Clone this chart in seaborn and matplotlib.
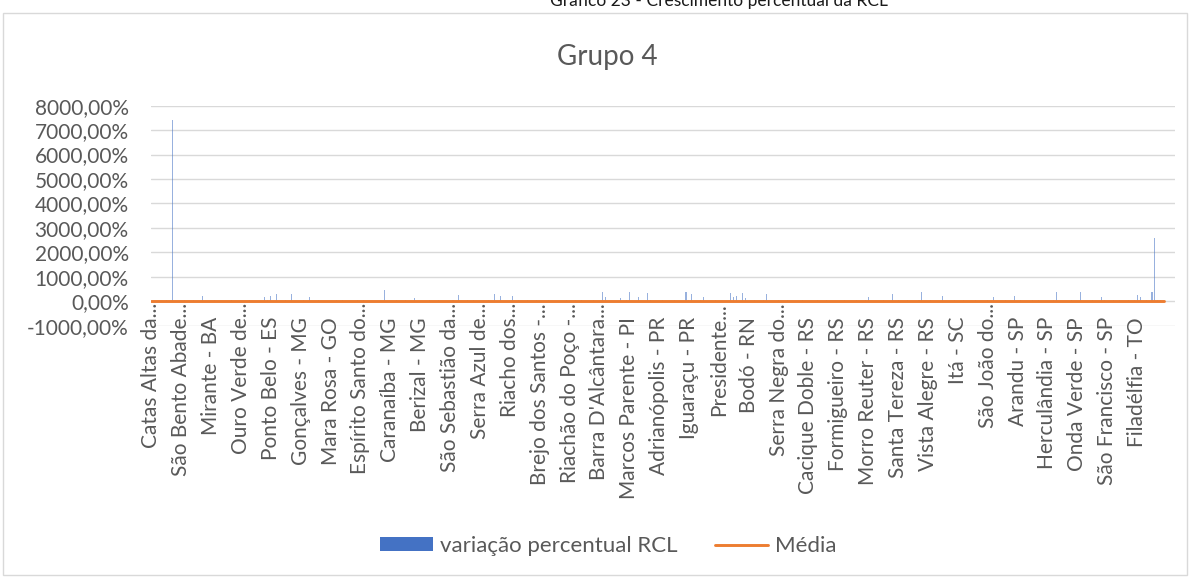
import numpy as np
import pandas as pd
import matplotlib
matplotlib.use("Agg")
import matplotlib.pyplot as plt
import seaborn as sns
from matplotlib.patches import Patch, Rectangle
from matplotlib.lines import Line2D
from matplotlib.ticker import FuncFormatter
from matplotlib.transforms import blended_transform_factory

# ---- data -------------------------------------------------------------
tick_labels = [
    "Catas Altas da...", "São Bento Abade...", "Mirante - BA", "Ouro Verde de...",
    "Ponto Belo - ES", "Gonçalves - MG", "Mara Rosa - GO", "Espírito Santo do...",
    "Caranaíba - MG", "Berizal - MG", "São Sebastião da...", "Serra Azul de...",
    "Riacho dos...", "Brejo dos Santos -...", "Riachão do Poço -...", "Barra D'Alcântara...",
    "Marcos Parente - PI", "Adrianópolis - PR", "Iguaraçu - PR", "Presidente...",
    "Bodó - RN", "Serra Negra do...", "Cacique Doble - RS", "Formigueiro - RS",
    "Morro Reuter - RS", "Santa Tereza - RS", "Vista Alegre - RS", "Itá - SC",
    "São João do...", "Arandu - SP", "Herculândia - SP", "Onda Verde - SP",
    "São Francisco - SP", "Filadélfia - TO",
]

# variação percentual RCL (%), one value per municipality (read/estimated)
variacao_rcl = [
    18, 9, 25, 14, -6, 31, 12, 7400, 22, 10,
    15, 28, 6, 19, 40, 11, -3, 200, 24, 13,
    9, 33, 17, 21, 5, 26, 14, 48, 12, 20,
    27, 8, 16, 35, 11, 22, -9, 13, 170, 30,
    200, 18, 310, 25, 10, 57, 15, 310, 21, 7,
    14, 29, 11, 190, 23, 6, 38, 17, 12, 26,
    20, 9, 31, 15, 44, 13, 24, -12, 18, 28,
    11, 36, 16, 22, 8, 27, 19, 14, 470, 25,
    13, 21, 32, 10, 17, 66, 23, 12, 150, 19,
    26, 15, 8, 30, 18, 11, 42, 24, 14, -4,
    22, 35, 13, 240, 17, 9, 28, 20, 33, 12,
    16, 25, 10, 37, 21, 310, 14, 200, 27, 8,
    19, 230, 13, 31, 24, 11, 52, 18, 15, 29,
    10, 23, 17, 39, -7, 26, 14, 20, 12, 34,
    21, 16, 28, 9, 45, 18, 25, 13, 30, 11,
    24, 390, 180, 19, 15, 27, 12, 150, 22, 33,
    390, 14, 26, 160, 18, 10, 350, 29, 16, 21,
    12, 34, 19, 25, 8, 41, 17, 23, 14, 380,
    28, 310, 15, 20, 36, 160, 11, 24, 18, 30,
    13, 27, 9, 22, 350, 160, 200, 16, 340, 150,
    25, 12, 31, 19, 14, 38, 310, 21, 17, 10,
    29, 15, 23, 47, 11, 26, 18, -10, 33, 20,
    14, 24, 16, 30, 12, 21, 58, 19, 27, 9,
    22, 13, 35, 17, 25, 11, 29, 15, 20, 32,
    175, 18, 26, 12, 23, 40, 16, 21, 310, 14,
    28, 10, 19, 33, 15, 24, 12, 37, 390, 17,
    21, 30, 14, 26, 9, 200, 18, 25, 13, 44,
    16, 22, 31, 11, 27, 19, 35, 14, 23, 8,
    29, 17, 175, 20, 13, 26, 54, 15, 22, 200,
    12, 31, 18, 24, 10, 28, 16, 39, 21, 14,
    25, 13, 30, 360, 19, 11, 27, 17, 34, 22,
    15, 390, 20, 26, 12, 43, 18, 24, 160, 29,
    11, 23, 35, 16, 28, 14, 21, 33, 19, 45,
    240, 160, 26, 52, 17, 360, 2570, 31, 68, 24,
]
media_rcl = 25.0  # Média (%)
label_every = 10

# ---- style ------------------------------------------------------------
sns.set_theme(style="white")
plt.rcParams["font.family"] = ["Lato", "DejaVu Sans"]
TXT = "#595959"
BLUE = "#4472C4"
ORANGE = "#ED7D31"
GRID = "#D9D9D9"

W, H = 1190, 577
fig = plt.figure(figsize=(W / 100, H / 100), dpi=100)
ax = fig.add_axes([151 / W, 1 - 325.6 / H, (1175 - 151) / W, (325.6 - 105.7) / H])

n = len(variacao_rcl)
df = pd.DataFrame({"pos": np.arange(n), "variacao": variacao_rcl})
df["media"] = media_rcl

sns.barplot(data=df, x="pos", y="variacao", native_scale=True, color=BLUE,
            saturation=1, width=0.34, linewidth=0, ax=ax, zorder=2)
for p in ax.patches:
    p.set_alpha(0.55)
    p.set_snap(True)
sns.lineplot(data=df, x="pos", y="media", color=ORANGE, lw=2.1, ax=ax, zorder=3)

ax.set_xlim(-0.1, 342.7)
ax.set_ylim(-1000, 8000)
ax.set_yticks(np.arange(-1000, 8001, 1000))
ax.yaxis.set_major_formatter(FuncFormatter(lambda v, p: f"{v:.2f}".replace(".", ",") + "%"))
ax.tick_params(axis="y", length=0, pad=16, labelsize=15, labelcolor=TXT)
ax.set_xticks([])
ax.set_xlabel("")
ax.set_ylabel("")
ax.grid(axis="y", color=GRID, lw=1.0, zorder=0)
ax.set_axisbelow(True)
for s in ax.spines.values():
    s.set_visible(False)

# category labels (rotated, hanging below the zero line)
trans = blended_transform_factory(ax.transData, ax.transAxes)
for k, lab in enumerate(tick_labels):
    top_px = 303 if lab.endswith("...") else 317
    yfrac = (325.6 - top_px) / (325.6 - 105.7)
    ax.text(k * label_every, yfrac, lab, rotation=90, ha="center", va="top",
            fontsize=15, color=TXT, transform=trans, clip_on=False)

# titles
fig.text(719 / W, 1 - 6 / H, "Gráfico 23 - Crescimento percentual da RCL",
         ha="center", va="baseline", fontsize=12.5, color="#1a1a1a")
fig.text(607 / W, 1 - 57 / H, "Grupo 4", ha="center", va="center",
         fontsize=20, color=TXT)

# legend
handles = [Patch(facecolor=BLUE, edgecolor="none"),
           Line2D([], [], color=ORANGE, lw=2.1)]
fig.legend(handles, ["variação percentual RCL", "Média"], loc="center",
           bbox_to_anchor=(608 / W, 1 - 546 / H), ncol=2, frameon=False,
           fontsize=16, labelcolor=TXT, handlelength=2.4, handleheight=0.6,
           handletextpad=0.3, columnspacing=1.7)

# chart border
fig.add_artist(Rectangle((3 / W, 1 - 575 / H), (1187 - 3) / W, (575 - 13) / H,
                         transform=fig.transFigure, fill=False,
                         edgecolor=GRID, lw=1.0))

fig.savefig("out.png", dpi=100)
